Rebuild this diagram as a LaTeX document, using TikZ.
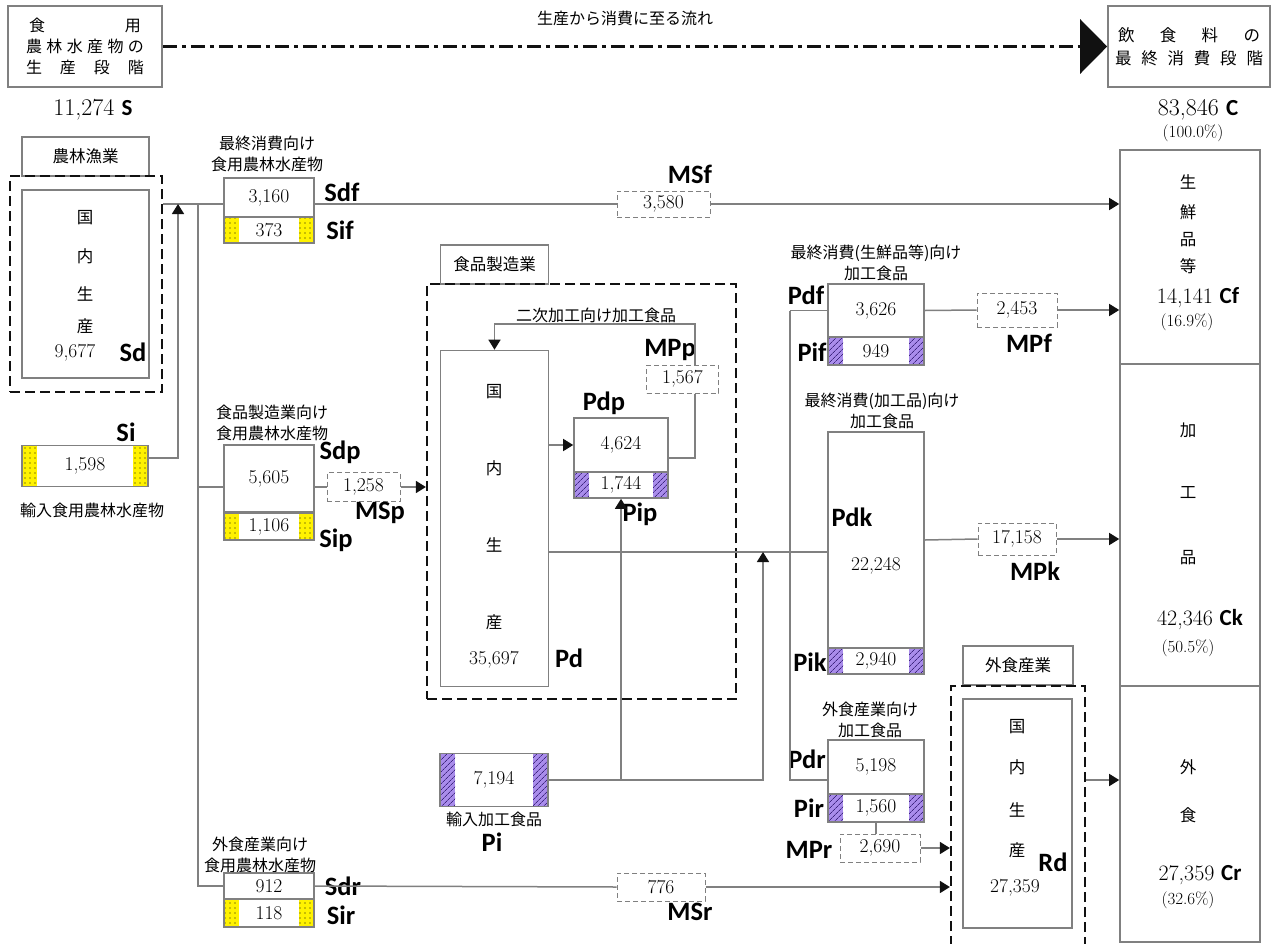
\documentclass[tikz,border=0pt]{standalone}
\usepackage{fontspec}
\newfontfamily\jpfont{Noto Sans CJK JP}
\newfontfamily\tagfont{Carlito}
\usetikzlibrary{arrows.meta,patterns.meta}
\definecolor{rule}{HTML}{808080}
\definecolor{ink}{HTML}{111111}
\definecolor{impS}{HTML}{FFF200}
\definecolor{impP}{HTML}{A98CEB}
\definecolor{hatch}{HTML}{3E2680}
\newcommand{\Panel}{15pt}

\tikzset{
  box/.style={draw=rule, line width=1.6pt, fill=white, inner sep=0pt,
    font=\fontsize{19.5}{21}\selectfont},
  msbox/.style={draw=rule, line width=1pt, dash pattern=on 5pt off 3pt,
    fill=white, inner sep=0pt, font=\fontsize{19.5}{21}\selectfont},
  zone/.style={draw=ink, line width=2.2pt, dash pattern=on 10pt off 5pt, inner sep=0pt},
  tabbox/.style={box, font=\jpfont\fontsize{16.5}{18}\selectfont},
  flow/.style={draw=rule, line width=1.5pt},
  arr/.style={flow, -{Triangle[length=10pt,width=12pt,color=ink]}},
  sym/.style={font=\tagfont\bfseries\fontsize{26.5}{26}\selectfont, inner sep=0pt},
  lbl/.style={font=\jpfont\fontsize{16}{21}\selectfont, align=center, inner sep=0pt},
  kanji/.style={font=\jpfont\fontsize{16.5}{17}\selectfont, inner sep=0pt},
  val/.style={font=\fontsize{19.5}{21}\selectfont, inner sep=0pt},
  big/.style={font=\fontsize{22}{24}\selectfont, inner sep=0pt},
  yends/.style={path picture={
    \foreach \s/\d in {west/1,east/-1} {
      \fill[impS] (path picture bounding box.north \s) rectangle ([xshift=\d*\Panel]path picture bounding box.south \s);
      \fill[pattern={Dots[distance=5pt,radius=0.6pt]}, pattern color=ink]
        (path picture bounding box.north \s) rectangle ([xshift=\d*\Panel]path picture bounding box.south \s);
    }}},
  pends/.style={path picture={
    \foreach \s/\d in {west/1,east/-1} {
      \fill[impP] (path picture bounding box.north \s) rectangle ([xshift=\d*\Panel]path picture bounding box.south \s);
      \fill[pattern={Lines[angle=45,distance=4pt,line width=0.7pt]}, pattern color=hatch]
        (path picture bounding box.north \s) rectangle ([xshift=\d*\Panel]path picture bounding box.south \s);
    }}},
}

\begin{document}
\begin{tikzpicture}[x=1pt,y=-1pt]
  \useasboundingbox (0,0) rectangle (1275,943);

  % ---- the two stages, and the flow between them -------------------------
  \node[box, minimum width=154, minimum height=81, font=\jpfont\fontsize{16}{21}\selectfont, align=center] (topL) at (85,46.5)
    {\makebox[112pt][s]{食\hfill 用}\\ \makebox[118pt][s]{農\hfill 林\hfill 水\hfill 産\hfill 物\hfill の}\\ \makebox[118pt][s]{生\hfill 産\hfill 段\hfill 階}};
  \node[box, minimum width=162, minimum height=81, font=\jpfont\fontsize{16.5}{23}\selectfont, align=center] (topR) at (1189,46.5)
    {\makebox[142pt][s]{飲\hfill 食\hfill 料\hfill の}\\ \makebox[148pt][s]{最\hfill 終\hfill 消\hfill 費\hfill 段\hfill 階}};
  \draw[ink, line width=3pt, dash pattern=on 14pt off 5pt on 4pt off 5pt,
    -{Triangle[length=27pt,width=54pt]}] (topL.east) -- (topR.west);
  \node[lbl] (flowlbl) at (625,18) {生産から消費に至る流れ};

  \node[big, font=\fontsize{24}{26}\selectfont] (totS) at (93,110) {11,274 {\tagfont\bfseries\fontsize{23}{23}\selectfont S}};
  \node[big, font=\fontsize{24}{26}\selectfont] (totC) at (1198,110) {83,846 {\tagfont\bfseries\fontsize{23}{23}\selectfont C}};
  \node[val, font=\fontsize{17}{19}\selectfont] (shareC) at (1193,133) {(100.0\%)};

  % ---- agriculture --------------------------------------------------------
  \node[tabbox, minimum width=127, minimum height=39] (tabS) at (85.5,156.5) {農林漁業};
  \node[zone, minimum width=152, minimum height=216] (zoneS) at (86,284) {};
  \node[box, minimum width=127, minimum height=188] (Sd) at (85.5,284) {};
  \foreach \ch/\y [count=\i] in {国/218,内/256,生/294,産/326}
    \node[kanji] (Sd-\i) at (85,\y) {\ch};
  \node[val] (vSd) at (75,353) {9,677};
  \node[sym] (tSd) at (133,352) {Sd};

  \node[box, yends, minimum width=126, minimum height=41] (Si) at (85,466) {1,598};
  \node[sym] (tSi) at (126,432) {Si};
  \node[lbl] (lSi) at (92,510) {輸入食用農林水産物};

  % ---- food for final consumption, manufacturing, eating out --------------
  \node[lbl] (lSf) at (267,154) {最終消費向け\\食用農林水産物};
  \node[box, minimum width=90, minimum height=39] (Sdf) at (269,197.5) {3,160};
  \node[box, yends, minimum width=90, minimum height=26] (Sif) at (269,230) {373};
  \node[sym] (tSdf) at (342,192) {Sdf};
  \node[sym] (tSif) at (340,230) {Sif};

  \node[lbl] (lSp) at (272,423) {食品製造業向け\\食用農林水産物};
  \node[box, minimum width=90, minimum height=67] (Sdp) at (269,478.5) {5,605};
  \node[box, yends, minimum width=90, minimum height=27] (Sip) at (269,526.5) {1,106};
  \node[sym] (tSdp) at (340,452) {Sdp};
  \node[sym] (tSip) at (336,540) {Sip};

  \node[lbl] (lSr) at (260,855) {外食産業向け\\食用農林水産物};
  \node[box, minimum width=90, minimum height=26] (Sdr) at (269,886) {912};
  \node[box, yends, minimum width=90, minimum height=28] (Sir) at (269,913) {118};
  \node[sym] (tSdr) at (343,886) {Sdr};
  \node[sym] (tSir) at (341,915) {Sir};

  \node[msbox, minimum width=93, minimum height=26] (MSf) at (663.5,204) {3,580};
  \node[sym] (tMSf) at (690,174) {MSf};
  \node[msbox, minimum width=73, minimum height=29] (MSp) at (363.5,487) {1,258};
  \node[sym] (tMSp) at (380,513) {MSp};
  \node[msbox, minimum width=88, minimum height=28] (MSr) at (661,887) {776};
  \node[sym] (tMSr) at (690,912) {MSr};

  % ---- food manufacturing -------------------------------------------------
  \node[tabbox, minimum width=108, minimum height=39] (tabP) at (494.5,264.5) {食品製造業};
  \node[zone, minimum width=309, minimum height=415] (zoneP) at (581.5,491.5) {};
  \node[box, minimum width=108, minimum height=336] (Pd) at (494.5,518.5) {};
  \foreach \ch/\y [count=\i] in {国/392,内/468,生/545,産/622}
    \node[kanji] (Pd-\i) at (494,\y) {\ch};
  \node[val] (vPd) at (494,660) {35,697};
  \node[sym] (tPd) at (569,658) {Pd};

  \node[box, minimum width=94, minimum height=54] (Pdp) at (621,445) {4,624};
  \node[box, pends, minimum width=94, minimum height=26] (Pip) at (621,485) {1,744};
  \node[sym] (tPdp) at (604,403) {Pdp};
  \node[sym] (tPip) at (640,514) {Pip};
  \node[msbox, minimum width=72, minimum height=28] (MPp) at (682.5,379) {1,567};
  \node[sym] (tMPp) at (670,350) {MPp};
  \node[lbl] (lMPp) at (596,315) {二次加工向け加工食品};

  \node[box, pends, minimum width=108, minimum height=53] (Pi) at (494,780) {7,194};
  \node[lbl] (lPi) at (494,819) {輸入加工食品};
  \node[sym] (tPi) at (492,842) {Pi};

  % ---- processed food, sorted by use --------------------------------------
  \node[lbl] (lPf) at (876,263) {最終消費(生鮮品等)向け\\加工食品};
  \node[box, minimum width=96, minimum height=53] (Pdf) at (876,310.5) {3,626};
  \node[box, pends, minimum width=96, minimum height=28] (Pif) at (876,351) {949};
  \node[sym] (tPdf) at (806,295) {Pdf};
  \node[sym] (tPif) at (812,352) {Pif};
  \node[msbox, minimum width=80, minimum height=34] (MPf) at (1017,310) {2,453};
  \node[sym] (tMPf) at (1029,343) {MPf};

  \node[lbl] (lPk) at (882,411) {最終消費(加工品)向け\\加工食品};
  \node[box, minimum width=96, minimum height=216] (Pdk) at (876,540) {};
  \node[val] (vPdk) at (876,566) {22,248};
  \node[box, pends, minimum width=96, minimum height=26] (Pik) at (876,661) {2,940};
  \node[sym] (tPdk) at (852,517) {Pdk};
  \node[sym] (tPik) at (810,662) {Pik};
  \node[msbox, minimum width=78, minimum height=32] (MPk) at (1017,539) {17,158};
  \node[sym] (tMPk) at (1035,571) {MPk};

  \node[lbl] (lPr) at (870,720) {外食産業向け\\加工食品};
  \node[box, minimum width=96, minimum height=54] (Pdr) at (876,767) {5,198};
  \node[box, pends, minimum width=96, minimum height=28] (Pir) at (876,808) {1,560};
  \node[sym] (tPdr) at (807,759) {Pdr};
  \node[sym] (tPir) at (809,808) {Pir};
  \node[msbox, minimum width=80, minimum height=28] (MPr) at (880,848) {2,690};
  \node[sym] (tMPr) at (809,850) {MPr};

  % ---- eating out ---------------------------------------------------------
  \node[tabbox, minimum width=110, minimum height=39] (tabR) at (1018,665.5) {外食産業};
  \node[zone, minimum width=134, minimum height=262] (zoneR) at (1018,817) {};
  \node[box, minimum width=109, minimum height=229] (Rd) at (1017.5,813.5) {};
  \foreach \ch/\y [count=\i] in {国/727,内/767,生/810,産/850}
    \node[kanji] (Rd-\i) at (1017,\y) {\ch};
  \node[val] (vRd) at (1015,888) {27,359};
  \node[sym] (tRd) at (1053,862) {Rd};

  % ---- final consumption --------------------------------------------------
  \node[box, minimum width=140, minimum height=214] (Cf) at (1190,257) {};
  \node[box, minimum width=140, minimum height=322] (Ck) at (1190,525) {};
  \node[box, minimum width=140, minimum height=256] (Cr) at (1190,814) {};
  \foreach \ch/\y [count=\i] in {生/182,鮮/212,品/240,等/266}
    \node[kanji] (Cf-\i) at (1188,\y) {\ch};
  \foreach \ch/\y [count=\i] in {加/430,工/493,品/558}
    \node[kanji] (Ck-\i) at (1188,\y) {\ch};
  \foreach \ch/\y [count=\i] in {外/767,食/815}
    \node[kanji] (Cr-\i) at (1188,\y) {\ch};
  \node[big] (vCf) at (1198,298) {14,141 {\tagfont\bfseries\fontsize{23}{23}\selectfont Cf}};
  \node[val, font=\fontsize{17}{19}\selectfont] (pCf) at (1187,322) {(16.9\%)};
  \node[big] (vCk) at (1200,620) {42,346 {\tagfont\bfseries\fontsize{23}{23}\selectfont Ck}};
  \node[val, font=\fontsize{17}{19}\selectfont] (pCk) at (1188,648) {(50.5\%)};
  \node[big] (vCr) at (1200,875) {27,359 {\tagfont\bfseries\fontsize{23}{23}\selectfont Cr}};
  \node[val, font=\fontsize{17}{19}\selectfont] (pCr) at (1188,900) {(32.6\%)};

  % ---- connectors ---------------------------------------------------------
  \coordinate (rowF) at (0,204);
  \coordinate (rowP) at (0,487);
  \coordinate (rowD) at (0,552);
  \coordinate (rowR) at (0,780);
  \coordinate (riseS) at (178,204);
  \coordinate (trunk) at (198,204);
  \coordinate (loop) at (695,324);
  \coordinate (hub) at (790,552);
  \coordinate (riseP) at (763,552);

  \draw[flow] (zoneS.east |- rowF) -- (Sdf.west |- rowF);
  \draw[arr] ([yshift=8pt]Si.east) -| (riseS);
  \draw[flow] (trunk) |- (Sdr.west);
  \draw[flow] (trunk |- rowP) -- (Sdp.west |- rowP);

  \draw[flow] (Sdf.east |- rowF) -- (MSf.west);
  \draw[arr] (MSf.east) -- (MSf.east -| Cf.west);
  \draw[flow] (Sdp.east |- rowP) -- (MSp.west);
  \draw[arr] (MSp.east) -- (MSp.east -| zoneP.west);
  \draw[flow] (Sdr.east) -- (MSr.west);
  \draw[arr] (MSr.east) -- (MSr.east -| zoneR.west);

  \draw[arr] (Pd.east |- Pdp.west) -- (Pdp.west);
  \draw[flow] ([yshift=-13pt]Pdp.east) -| (loop |- MPp.south);
  \draw[arr] (loop |- MPp.north) -- (loop) -| (Pd.north);

  \draw[flow] (Pd.east |- rowD) -- (Pdk.west |- rowD);
  \draw[flow] (hub |- Pdf.west) -- (Pdf.west);
  \draw[flow] (hub |- Pdf.west) |- (Pdr.west |- rowR);
  \draw[arr] (Pi.east) -| (riseP);
  \draw[arr] (Pi.east -| Pip.south) -- (Pip.south);

  \draw[flow] (Pdf.east) -- (MPf.west);
  \draw[arr] (MPf.east) -- (MPf.east -| Cf.west);
  \draw[flow] (Pdk.east) -- (MPk.west);
  \draw[arr] (MPk.east) -- (MPk.east -| Ck.west);
  \draw[flow] (Pir.south) -- (Pir.south |- MPr.north);
  \draw[arr] (MPr.east) -- (MPr.east -| zoneR.west);
  \draw[arr] (zoneR.east |- rowR) -- (Cr.west |- rowR);

\end{tikzpicture}
\end{document}
